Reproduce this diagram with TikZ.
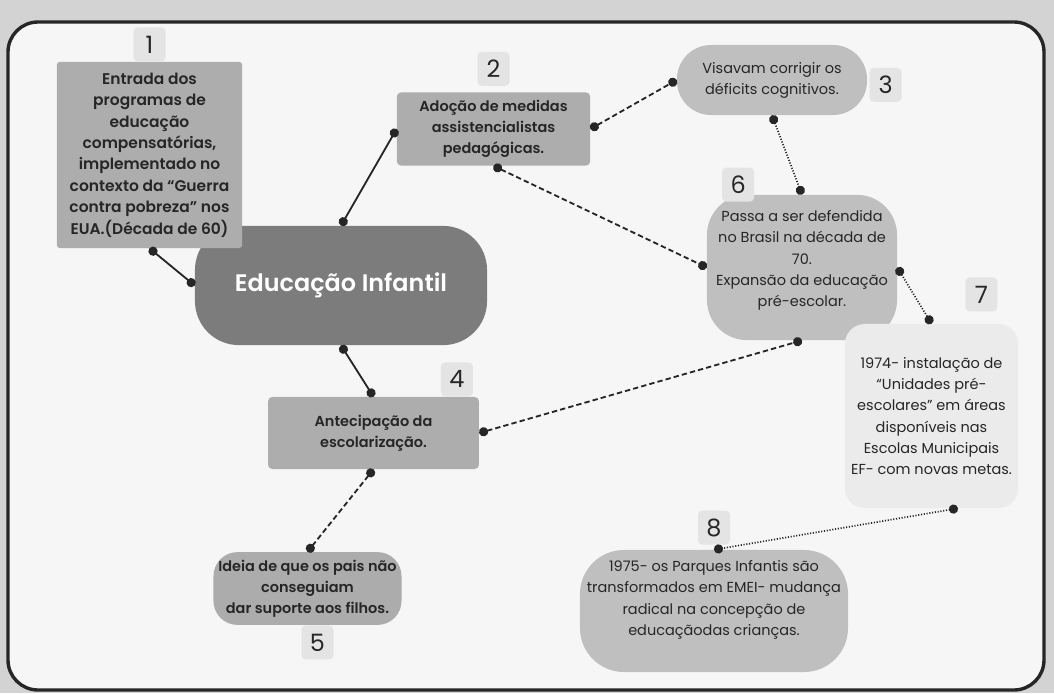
\documentclass[tikz,border=0pt]{standalone}
\usepackage{fontspec}
\setmainfont{Poppins}[BoldFont={Poppins SemiBold}]
\usetikzlibrary{positioning,arrows.meta}
\definecolor{pagegray}{HTML}{D3D3D3}
\definecolor{innergray}{HTML}{F6F6F6}
\definecolor{boxgray}{HTML}{ADADAD}
\definecolor{softgray}{HTML}{BFBFBF}
\definecolor{palegray}{HTML}{EBEBEB}
\definecolor{centergray}{HTML}{7C7C7C}
\definecolor{numgray}{HTML}{E4E4E4}

\begin{document}
\begin{tikzpicture}[x=0.025cm, y=-0.025cm,
  idea/.style={rectangle, align=center, text=black!85, inner sep=2pt,
               font=\fontsize{10.3}{15}\selectfont},
  boldidea/.style={idea, font=\fontsize{10.3}{15}\selectfont\bfseries},
  num/.style={rectangle, rounded corners=3pt, fill=numgray, inner sep=0pt,
              minimum width=0.8cm, minimum height=0.85cm, text=black!85,
              font=\fontsize{17}{18}\selectfont},
  solidlink/.style={line width=1.3pt, draw=black!85,
                    {Circle[length=6.5pt]}-{Circle[length=6.5pt]}},
  dashlink/.style={solidlink, dash pattern=on 3.8pt off 2.2pt},
  dotlink/.style={solidlink, line width=1.2pt, dash pattern=on 0.8pt off 1.2pt}
]
% page and frame
\fill[pagegray] (0,0) rectangle (1054,693);
\draw[line width=2.4pt, draw=black!85, fill=innergray, rounded corners=0.75cm]
  (8,22) rectangle (1044,690);

% central idea
\node[rectangle, fill=centergray, rounded corners=1.1cm, text=white,
      minimum width=7.3cm, minimum height=2.98cm,
      font=\fontsize{17}{22}\selectfont\bfseries] (edu) at (341,285.5)
  {Educação Infantil};

% branches
\node[boldidea, fill=boxgray, rounded corners=2pt,
      font=\fontsize{11}{15.2}\selectfont\bfseries,
      minimum width=4.63cm, minimum height=4.65cm] (entrada) at (149.5,155)
  {Entrada dos\\programas de\\educação\\compensatórias,\\implementado no\\
   contexto da “Guerra\\contra pobreza" nos\\EUA.(Década de 60)};
\node[boldidea, fill=boxgray, rounded corners=3pt,
      minimum width=4.83cm, minimum height=1.83cm] (medidas) at (493.5,129)
  {Adoção de medidas\\assistencialistas\\pedagógicas.};
\node[idea, fill=softgray, rounded corners=0.85cm,
      minimum width=4.75cm, minimum height=1.75cm] (deficits) at (772,80)
  {Visavam corrigir os\\déficits cognitivos.};
\node[boldidea, fill=boxgray, rounded corners=3pt,
      minimum width=5.27cm, minimum height=1.8cm] (antecip) at (373.5,433)
  {Antecipação da\\escolarização.};
\node[boldidea, fill=softgray!90!black, rounded corners=0.6cm,
      minimum width=4.7cm, minimum height=1.82cm] (ideia) at (307.5,588.5)
  {Ideia de que os pais não\\conseguiam\\dar suporte aos filhos.};
\node[idea, fill=softgray, rounded corners=1cm, text depth=0.45cm,
      minimum width=4.75cm, minimum height=3.63cm] (defendida) at (802,267.5)
  {Passa a ser defendida\\no Brasil na década de\\70.\\Expansão da educação\\pré-escolar.};
\node[idea, fill=palegray, rounded corners=0.5cm,
      minimum width=4.33cm, minimum height=4.6cm] (unidades) at (931.5,416)
  {1974- instalação de\\“Unidades pré-\\escolares" em áreas\\disponíveis nas\\
   Escolas Municipais\\EF- com novas metas.};
\node[idea, fill=softgray, rounded corners=1.1cm, text depth=0.65cm,
      minimum width=6.7cm, minimum height=3.05cm] (parques) at (714,611)
  {1975- os Parques Infantis são\\transformados em EMEI- mudança\\
   radical na concepção de\\educaçãodas crianças.};

% numbers
\node[num, above=0pt of entrada] (num1) {1};
\node[num, above=0.15cm of medidas] (num2) {2};
\node[num, right=0.05cm of deficits, yshift=-0.12cm] (num3) {3};
\node[num, anchor=south east] (num4) at ([xshift=-0.15cm]antecip.north east) {4};
\node[num, below=0pt of ideia, xshift=0.25cm] (num5) {5};
\node[num, anchor=south west] (num6)
  at ([xshift=0.38cm, yshift=-0.18cm]defendida.north west) {6};
\node[num, anchor=south east] (num7)
  at ([xshift=-0.52cm, yshift=0.3cm]unidades.north east) {7};
\node[num, above=0.12cm of parques] (num8) {8};

% connectors
\draw[solidlink] (entrada.south) -- (edu.west);
\draw[solidlink] (edu.north) -- (medidas.west);
\draw[solidlink] (edu.south) -- (antecip.north);
\draw[dashlink] (medidas.east) -- (deficits.west);
\draw[dashlink] (medidas.south) -- (defendida.west);
\draw[dotlink] (deficits.south) -- (defendida.north);
\draw[dotlink] (defendida.east) -- (unidades.north);
\draw[dashlink] (antecip.east) -- (defendida.south);
\draw[dashlink] (antecip.south) -- (ideia.north);
\draw[dotlink] (unidades.-74) -- (parques.north);
\end{tikzpicture}
\end{document}
